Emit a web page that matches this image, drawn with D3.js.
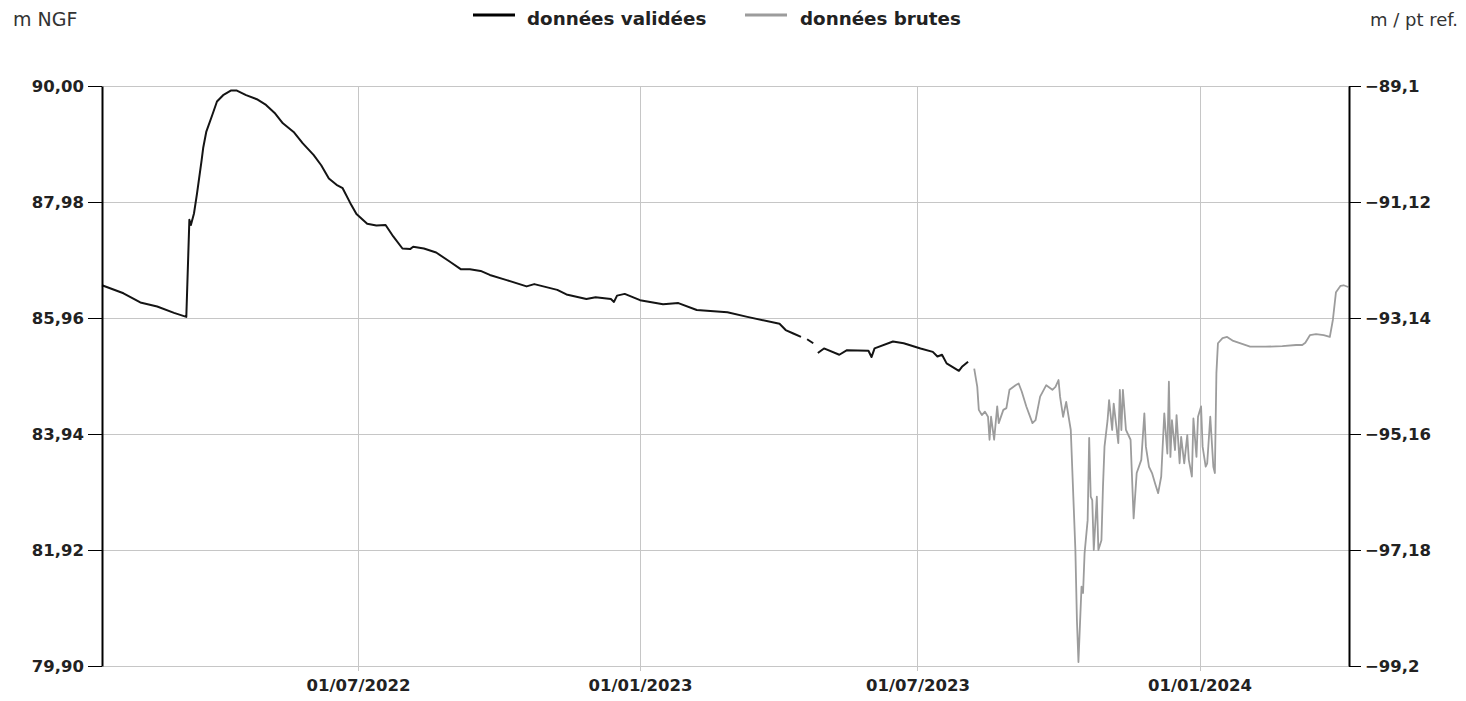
<!DOCTYPE html>
<html>
<head>
<meta charset="utf-8">
<script src="https://cdn.jsdelivr.net/npm/d3@7"></script>
<style>
  body { margin: 0; background: #fff; }
  svg { display: block; font-family: "DejaVu Sans", sans-serif; }
</style>
</head>
<body>
<svg id="chart" width="1466" height="701"></svg>
<script>
// tick values
var leftTicks = [90, 87.98, 85.96, 83.94, 81.92, 79.90];
var rightTicks = [-89.1, -91.12, -93.14, -95.16, -97.18, -99.2];
var dateTicks = ["2022-07-01", "2023-01-01", "2023-07-01", "2024-01-01"];

// données validées (m NGF), null = trou dans la série
var validDates = ["2022-01-15","2022-01-29","2022-02-09","2022-02-20","2022-03-03","2022-03-11",
  "2022-03-13","2022-03-14","2022-03-16","2022-03-18","2022-03-21","2022-03-22","2022-03-24",
  "2022-03-28","2022-03-31","2022-04-04","2022-04-09","2022-04-13","2022-04-19","2022-04-26",
  "2022-05-02","2022-05-08","2022-05-13","2022-05-20","2022-05-26","2022-06-02","2022-06-07",
  "2022-06-12","2022-06-17","2022-06-21","2022-06-26","2022-06-30","2022-07-07","2022-07-13",
  "2022-07-19","2022-07-24","2022-07-30","2022-08-04","2022-08-06","2022-08-13","2022-08-21",
  "2022-08-30","2022-09-06","2022-09-12","2022-09-19","2022-09-25","2022-10-06","2022-10-19",
  "2022-10-24","2022-11-08","2022-11-14","2022-11-27","2022-12-03","2022-12-13","2022-12-15",
  "2022-12-17","2022-12-22","2023-01-01","2023-01-16","2023-01-26","2023-02-07","2023-02-27",
  "2023-03-12","2023-04-02","2023-04-06","2023-04-11","2023-04-16","2023-04-18","2023-04-20",
  "2023-04-24","2023-04-25","2023-04-27","2023-05-01","2023-05-11","2023-05-16","2023-05-30",
  "2023-06-01","2023-06-03","2023-06-15","2023-06-22","2023-07-03","2023-07-11","2023-07-14",
  "2023-07-17","2023-07-20","2023-07-28","2023-07-30","2023-08-03"];
var validLevels = [86.53,86.39,86.23,86.16,86.05,85.98,
  87.67,87.58,87.78,88.13,88.71,88.92,89.20,
  89.50,89.73,89.84,89.92,89.92,89.84,89.77,
  89.67,89.52,89.35,89.20,89.00,88.80,88.62,
  88.39,88.28,88.22,87.96,87.77,87.60,87.57,
  87.58,87.38,87.17,87.16,87.20,87.17,87.10,
  86.94,86.81,86.81,86.78,86.71,86.62,86.51,
  86.55,86.45,86.37,86.29,86.32,86.29,86.24,
  86.35,86.38,86.27,86.20,86.22,86.10,86.06,
  85.98,85.86,85.75,85.69,85.63,null,85.59,
  85.52,null,85.35,85.43,85.32,85.40,85.39,
  85.28,85.43,85.55,85.52,85.43,85.37,85.29,
  85.32,85.17,85.04,85.11,85.20];

// données brutes (m NGF)
var rawDates = ["2023-08-07","2023-08-09","2023-08-10","2023-08-12","2023-08-14","2023-08-16",
  "2023-08-17","2023-08-18","2023-08-20","2023-08-22","2023-08-23","2023-08-26","2023-08-28",
  "2023-08-30","2023-09-03","2023-09-05","2023-09-07","2023-09-10","2023-09-14","2023-09-16",
  "2023-09-19","2023-09-23","2023-09-27","2023-09-29","2023-10-01","2023-10-02","2023-10-04",
  "2023-10-06","2023-10-09","2023-10-10","2023-10-12","2023-10-13","2023-10-14","2023-10-16",
  "2023-10-17","2023-10-18","2023-10-20","2023-10-21","2023-10-22","2023-10-23","2023-10-24",
  "2023-10-26","2023-10-27","2023-10-29","2023-10-30","2023-10-31","2023-11-02","2023-11-03",
  "2023-11-05","2023-11-06","2023-11-08","2023-11-09","2023-11-10","2023-11-11","2023-11-12",
  "2023-11-14","2023-11-17","2023-11-19","2023-11-21","2023-11-24","2023-11-26","2023-11-27",
  "2023-11-29","2023-12-01","2023-12-03","2023-12-05","2023-12-07","2023-12-09","2023-12-11",
  "2023-12-12","2023-12-13","2023-12-14","2023-12-16","2023-12-17","2023-12-19","2023-12-20",
  "2023-12-22","2023-12-24","2023-12-25","2023-12-27","2023-12-28","2023-12-30","2023-12-31",
  "2024-01-02","2024-01-03","2024-01-05","2024-01-06","2024-01-08","2024-01-10","2024-01-11",
  "2024-01-12","2024-01-13","2024-01-16","2024-01-19","2024-01-23","2024-02-03","2024-02-13",
  "2024-02-24","2024-03-04","2024-03-08","2024-03-10","2024-03-13","2024-03-17","2024-03-22",
  "2024-03-26","2024-03-28","2024-03-30","2024-04-02","2024-04-04","2024-04-07"];
var rawLevels = [85.08,84.76,84.36,84.27,84.33,84.24,
  83.84,84.24,83.84,84.42,84.13,84.36,84.39,
  84.71,84.79,84.82,84.68,84.42,84.13,84.18,
  84.59,84.79,84.71,84.76,84.88,84.59,84.24,
  84.50,84.01,83.31,81.92,80.70,79.97,81.28,
  81.17,81.86,82.44,83.87,82.85,82.79,81.92,
  82.85,81.92,82.09,83.02,83.72,84.18,84.53,
  84.01,84.47,84.01,83.78,84.71,84.01,84.71,
  84.01,83.84,82.47,83.26,83.49,84.30,83.72,
  83.37,83.26,83.08,82.91,83.20,84.30,83.60,
  84.85,83.54,84.18,83.66,84.27,83.43,83.89,
  83.43,83.92,83.49,83.20,84.21,83.54,84.24,
  84.42,83.72,83.37,83.43,84.24,83.37,83.26,
  85.00,85.52,85.61,85.63,85.56,85.46,85.46,
  85.47,85.49,85.49,85.53,85.66,85.68,85.66,
  85.63,85.93,86.41,86.52,86.53,86.50];

var parseDate = d3.timeParse("%Y-%m-%d");
var comma = function (s) { return s.replace(".", ","); };

var plotLeft = 102, plotRight = 1349, plotTop = 86, plotBottom = 666;

var svg = d3.select("#chart");

var x = d3.scaleTime()
  .domain([parseDate("2022-01-15"), new Date(2024, 3, 7, 12)])
  .range([plotLeft, plotRight]);
var y = d3.scaleLinear().domain([79.9, 90]).range([plotBottom, plotTop]);
var yRight = d3.scaleLinear().domain([-99.2, -89.1]).range([plotBottom, plotTop]);

// grid
svg.append("g")
  .selectAll("line")
  .data(leftTicks)
  .enter()
  .append("line")
  .attr("x1", plotLeft)
  .attr("x2", plotRight)
  .attr("y1", function (d) { return Math.round(y(d)) + 0.5; })
  .attr("y2", function (d) { return Math.round(y(d)) + 0.5; })
  .attr("stroke", "#c6c6c6");

svg.append("g")
  .selectAll("line")
  .data(dateTicks)
  .enter()
  .append("line")
  .attr("x1", function (d) { return Math.round(x(parseDate(d))) + 0.5; })
  .attr("x2", function (d) { return Math.round(x(parseDate(d))) + 0.5; })
  .attr("y1", plotTop)
  .attr("y2", plotBottom + 5)
  .attr("stroke", "#c6c6c6");

// series
function toPoints(dates, levels) {
  return dates.map(function (d, i) {
    return { date: parseDate(d), value: levels[i] };
  });
}

var line = d3.line()
  .defined(function (d) { return d.value !== null; })
  .x(function (d) { return x(d.date); })
  .y(function (d) { return y(d.value); });

svg.append("path")
  .datum(toPoints(rawDates, rawLevels))
  .attr("d", line)
  .attr("fill", "none")
  .attr("stroke", "#9c9c9c")
  .attr("stroke-width", 1.8)
  .attr("stroke-linejoin", "round");

svg.append("path")
  .datum(toPoints(validDates, validLevels))
  .attr("d", line)
  .attr("fill", "none")
  .attr("stroke", "#141414")
  .attr("stroke-width", 2)
  .attr("stroke-linejoin", "round");

// axes
var leftAxis = svg.append("g")
  .attr("transform", "translate(" + plotLeft + ",0)")
  .call(d3.axisLeft(y)
    .tickValues(leftTicks)
    .tickSize(14)
    .tickSizeOuter(0)
    .tickPadding(4)
    .tickFormat(function (d) { return comma(d3.format(".2f")(d)); }));

var rightAxis = svg.append("g")
  .attr("transform", "translate(" + plotRight + ",0)")
  .call(d3.axisRight(yRight)
    .tickValues(rightTicks)
    .tickSize(12)
    .tickSizeOuter(0)
    .tickPadding(4)
    .tickFormat(function (d) { return comma(d3.format(".2~f")(d)); }));

var bottomAxis = svg.append("g")
  .attr("transform", "translate(0," + plotBottom + ")")
  .call(d3.axisBottom(x)
    .tickValues(dateTicks.map(parseDate))
    .tickSize(0)
    .tickPadding(13)
    .tickFormat(d3.timeFormat("%d/%m/%Y")));
bottomAxis.select(".domain").remove();

[leftAxis, rightAxis].forEach(function (g) {
  g.select(".domain").attr("stroke", "#000").attr("stroke-width", 2);
  g.selectAll(".tick line").attr("stroke", "#000");
});

[leftAxis, rightAxis, bottomAxis].forEach(function (g) {
  g.attr("font-family", null).attr("font-size", null);
  g.selectAll("text")
    .attr("fill", "#222")
    .style("font-size", "16.5px")
    .style("font-weight", "bold");
});

// legend
svg.append("line")
  .attr("x1", 473).attr("x2", 515).attr("y1", 15).attr("y2", 15)
  .attr("stroke", "#000").attr("stroke-width", 3);
svg.append("text")
  .attr("x", 527).attr("y", 25)
  .text("données validées")
  .style("font-size", "18.3px").style("font-weight", "bold").attr("fill", "#222");

svg.append("line")
  .attr("x1", 745).attr("x2", 787).attr("y1", 15).attr("y2", 15)
  .attr("stroke", "#9c9c9c").attr("stroke-width", 3);
svg.append("text")
  .attr("x", 800).attr("y", 25)
  .text("données brutes")
  .style("font-size", "18.3px").style("font-weight", "bold").attr("fill", "#222");

// units
svg.append("text")
  .attr("x", 13).attr("y", 26)
  .text("m NGF")
  .style("font-size", "19px").attr("fill", "#333");
svg.append("text")
  .attr("x", 1458).attr("y", 26)
  .attr("text-anchor", "end")
  .text("m / pt ref.")
  .style("font-size", "18px").attr("fill", "#333");
</script>
</body>
</html>
